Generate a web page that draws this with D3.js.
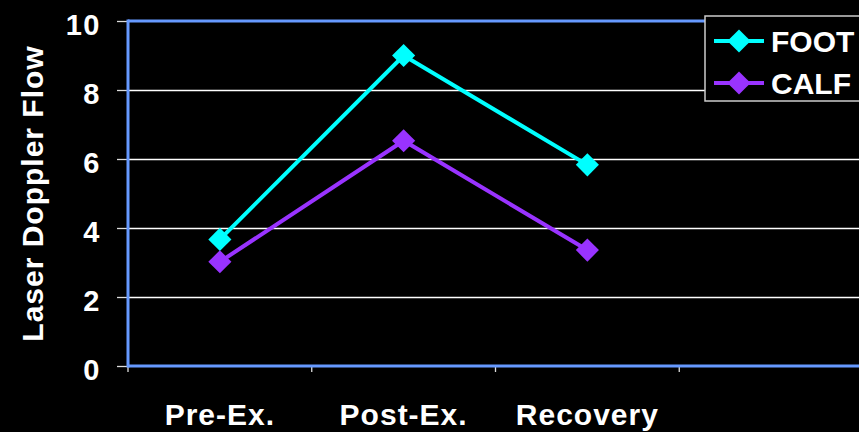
<!DOCTYPE html>
<html><head><meta charset="utf-8">
<script src="https://cdn.jsdelivr.net/npm/d3@7"></script>
<style>html,body{margin:0;padding:0;background:#000;overflow:hidden}svg{display:block}</style>
</head><body><svg id="c" width="859" height="432"></svg>
<script>
const categories = ["Pre-Ex.", "Post-Ex.", "Recovery", ""];
const footValues = [3.67, 9.0, 5.83];
const calfValues = [3.02, 6.53, 3.36];
const yTicks = [0, 2, 4, 6, 8, 10];
const seriesNames = ["FOOT", "CALF"];
const seriesColors = ["#00FFFF", "#9933FF"];

const W = 859, H = 432;
const m = {left: 128, top: 21, right: 863, bottom: 366};
const font = "'Liberation Sans', Arial, sans-serif";
const svg = d3.select("#c");
svg.append("rect").attr("width", W).attr("height", H).attr("fill", "#000");

const x = d3.scaleBand().domain(categories).range([m.left, m.right]);
const y = d3.scaleLinear().domain([0, 10]).range([m.bottom, m.top]);

// gridlines
svg.append("g").selectAll("line").data(yTicks.filter(t => t > 0 && t < 10)).join("line")
  .attr("x1", m.left).attr("x2", m.right)
  .attr("y1", d => Math.round(y(d)) + 0.5).attr("y2", d => Math.round(y(d)) + 0.5)
  .attr("stroke", "#fff").attr("stroke-width", 1.3);

// y axis ticks + labels
const ya = svg.append("g").attr("transform", `translate(${m.left},0)`)
  .call(d3.axisLeft(y).tickValues(yTicks).tickSize(11).tickPadding(16).tickFormat(d3.format("d")));
ya.select(".domain").remove();
ya.selectAll(".tick line").attr("stroke", "#ddd").attr("stroke-width", 1.3);
ya.selectAll(".tick text").attr("fill", "#fff").attr("font-family", font)
  .attr("font-weight", "bold").attr("font-size", 29).attr("letter-spacing", 1.5).attr("dy", "0.45em");

// x axis ticks
const xa = svg.append("g").attr("transform", `translate(0,${m.bottom})`);
xa.selectAll("line").data(categories).join("line")
  .attr("x1", d => x(d)).attr("x2", d => x(d)).attr("y1", 0).attr("y2", 6)
  .attr("stroke", "#ddd").attr("stroke-width", 1.3);
xa.selectAll("text").data(categories.filter(c => c)).join("text")
  .attr("x", d => x(d) + x.bandwidth() / 2).attr("y", 59)
  .attr("text-anchor", "middle").attr("fill", "#fff").attr("font-family", font)
  .attr("font-weight", "bold").attr("font-size", 30).attr("letter-spacing", 1).text(d => d);

// axis lines (blue)
svg.append("line").attr("x1", m.left).attr("x2", m.right).attr("y1", m.bottom).attr("y2", m.bottom)
  .attr("stroke", "#6699FF").attr("stroke-width", 3);
svg.append("line").attr("x1", m.left).attr("x2", m.right).attr("y1", m.top).attr("y2", m.top)
  .attr("stroke", "#6699FF").attr("stroke-width", 3);
svg.append("line").attr("x1", m.left).attr("x2", m.left).attr("y1", m.top - 1.5).attr("y2", m.bottom + 1.5)
  .attr("stroke", "#6699FF").attr("stroke-width", 3);

// y axis title
svg.append("text").attr("transform", `translate(43,${(m.top + m.bottom) / 2}) rotate(-90)`)
  .attr("text-anchor", "middle").attr("fill", "#fff").attr("font-family", font)
  .attr("font-weight", "bold").attr("font-size", 30).attr("letter-spacing", 1).text("Laser Doppler Flow");

const diamond = d3.symbol().type(d3.symbolDiamond2).size(340);
const series = [footValues, calfValues];
series.forEach((vals, i) => {
  const pts = vals.map((v, j) => [x(categories[j]) + x.bandwidth() / 2, y(v)]);
  svg.append("path").attr("d", d3.line()(pts)).attr("fill", "none")
    .attr("stroke", seriesColors[i]).attr("stroke-width", 4);
  svg.append("g").selectAll("path").data(pts).join("path")
    .attr("transform", d => `translate(${d[0]},${d[1]})`).attr("d", diamond)
    .attr("fill", seriesColors[i]);
});

// legend
const lg = svg.append("g");
lg.append("rect").attr("x", 705).attr("y", 16).attr("width", 170).attr("height", 85)
  .attr("fill", "#000").attr("stroke", "#ccc").attr("stroke-width", 1.5);
seriesNames.forEach((n, i) => {
  const cy = 41 + i * 42;
  lg.append("line").attr("x1", 714).attr("x2", 764).attr("y1", cy).attr("y2", cy)
    .attr("stroke", seriesColors[i]).attr("stroke-width", 4);
  lg.append("path").attr("transform", `translate(739,${cy})`).attr("d", diamond).attr("fill", seriesColors[i]);
  lg.append("text").attr("x", 771).attr("y", cy).attr("dy", "0.36em").attr("fill", "#fff")
    .attr("font-family", font).attr("font-weight", "bold").attr("font-size", 30).text(n);
});
</script></body></html>
